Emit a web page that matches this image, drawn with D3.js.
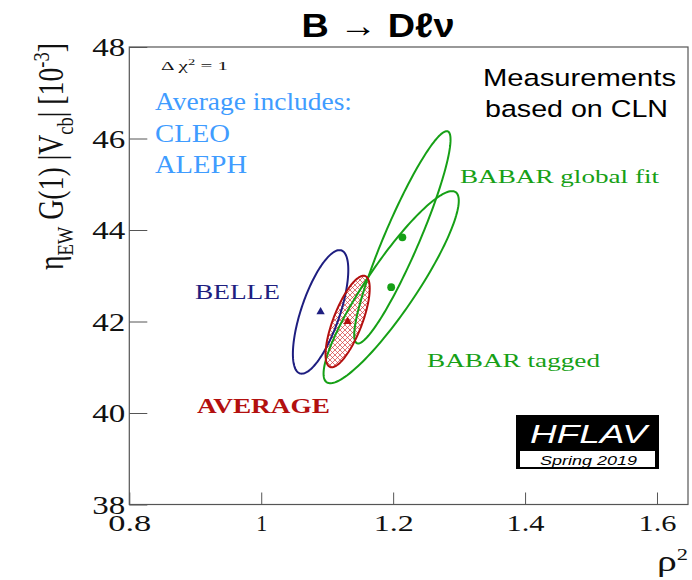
<!DOCTYPE html>
<html><head><meta charset="utf-8">
<script src="https://cdn.jsdelivr.net/npm/d3@7"></script>
<style>body{margin:0;background:#fff}svg{display:block}</style>
</head><body><svg id="c" width="692" height="580"></svg>
<script>
// ---- data ----
const names = ["BELLE", "AVERAGE", "BABAR global fit", "BABAR tagged"];
const rho2 = [1.090, 1.131, 1.214, 1.197];
const vcb = [42.21, 42.00, 43.84, 42.75];
const errRho2 = [0.042, 0.0335, 0.073, 0.1025];
const errVcb = [1.35, 1.00, 2.32, 2.10];
const corr = [0.68, 0.72, 0.92, 0.90];
const markerShapes = ["triangle", "triangle", "circle", "circle"];
const xTicks = [0.8, 1.0, 1.2, 1.4, 1.6];
const xTickLabels = ["0.8", "1", "1.2", "1.4", "1.6"];
const yTicks = [38, 40, 42, 44, 46, 48];
const yTickLabels = ["38", "40", "42", "44", "46", "48"];
const includes = ["Average includes:", "CLEO", "ALEPH"];
const noteLines = ["Measurements", "based on CLN"];

// ---- styles ----
const colors = ["#1e1e80", "#b3100f", "#16a016", "#16a016"];
const serif = "'Liberation Serif','DejaVu Serif',serif";
const sans = "'Liberation Sans',Arial,sans-serif";

const svg = d3.select("#c");
const x = d3.scaleLinear([0.8, 1.647], [129.3, 688]);
const y = d3.scaleLinear([38, 48], [504.5, 47]);

// hatch pattern
const defs = svg.append("defs");
const pat = defs.append("pattern").attr("id", "hatch").attr("patternUnits", "userSpaceOnUse")
  .attr("width", 5).attr("height", 5);
pat.append("path").attr("d", "M0,0L5,5M5,0L0,5M-1,4L1,6M4,-1L6,1M4,6L6,4M-1,1L1,-1")
  .attr("stroke", "#d23a3a").attr("stroke-width", 0.7).attr("fill", "none");

// ---- axes ----
const axisColor = "#555";
const gx = svg.append("g").attr("transform", `translate(0,${y(38)})`);
gx.call(d3.axisBottom(x).tickValues(d3.range(0.8, 1.6476, 0.05)).tickSize(-6).tickFormat(""));
gx.call(d3.axisBottom(x).tickValues(xTicks).tickSize(-12).tickPadding(0)
  .tickFormat((d, i) => xTickLabels[i]));
gx.select(".domain").remove();
gx.selectAll("line").attr("stroke", axisColor);
gx.selectAll("text").attr("y", 26).attr("dy", 0).attr("fill", "#111")
  .style("font-family", serif).style("font-size", "23.5px")
  .attr("textLength", (d) => ({ "0.8": 43, "1": 11, "1.2": 40, "1.4": 38, "1.6": 38 }[xTickLabels[xTicks.indexOf(d)]]))
  .attr("lengthAdjust", "spacingAndGlyphs");

const gy = svg.append("g").attr("transform", `translate(${x(0.8)},0)`);
gy.call(d3.axisLeft(y).tickValues(d3.range(38, 48.01, 0.5)).tickSize(-9).tickFormat(""));
gy.call(d3.axisLeft(y).tickValues(yTicks).tickSize(-18).tickPadding(4)
  .tickFormat((d, i) => yTickLabels[i]));
gy.select(".domain").remove();
gy.selectAll("line").attr("stroke", axisColor);
gy.selectAll("text").attr("dy", "8.5").attr("fill", "#111")
  .style("font-family", serif).style("font-size", "25.5px")
  .attr("textLength", 33).attr("lengthAdjust", "spacingAndGlyphs");

// frame
svg.append("rect").attr("x", x(0.8)).attr("y", y(48))
  .attr("width", x(1.647) - x(0.8)).attr("height", y(38) - y(48))
  .attr("fill", "none").attr("stroke", axisColor).attr("stroke-width", 1.2);

// ---- ellipses ----
function ellipsePts(i) {
  const pts = [];
  const s = Math.sqrt(1 - corr[i] * corr[i]);
  for (let k = 0; k < 160; k++) {
    const t = 2 * Math.PI * k / 160;
    pts.push([rho2[i] + errRho2[i] * Math.cos(t),
              vcb[i] + errVcb[i] * (corr[i] * Math.cos(t) + s * Math.sin(t))]);
  }
  return pts;
}
const line = d3.line().x(d => x(d[0])).y(d => y(d[1])).curve(d3.curveLinearClosed);
const order = [2, 3, 0, 1];
const gE = svg.append("g");
gE.append("path").attr("d", line(ellipsePts(1))).attr("fill", "url(#hatch)");
order.forEach(i => {
  gE.append("path").attr("d", line(ellipsePts(i))).attr("fill", "none")
    .attr("stroke", colors[i]).attr("stroke-width", 2);
});
// markers
order.forEach(i => {
  const sym = markerShapes[i] === "triangle" ? d3.symbolTriangle : d3.symbolCircle;
  const size = markerShapes[i] === "triangle" ? 30 : 48;
  svg.append("path").attr("d", d3.symbol(sym, size)())
    .attr("transform", `translate(${x(rho2[i])},${y(vcb[i])})`)
    .attr("fill", colors[i]);
});

// ---- series labels ----
function txt(t, px, py, size, fam, fill, len, extra) {
  const e = svg.append("text").attr("x", px).attr("y", py).text(t)
    .style("font-family", fam).style("font-size", size + "px").attr("fill", fill);
  if (len) e.attr("textLength", len).attr("lengthAdjust", "spacingAndGlyphs");
  if (extra) extra(e);
  return e;
}
txt(names[0], 195, 299, 20, serif, colors[0], 85);
txt(names[1], 197, 413, 20, serif, colors[1], 133, e => e.style("font-weight", "bold"));
txt(names[2], 460, 183, 19, serif, colors[2], 199);
txt(names[3], 427, 367, 19, serif, colors[3], 173);

// blue list
txt(includes[0], 155, 110, 26, serif, "#3f9cff", 197);
txt(includes[1], 155, 142, 26, serif, "#3f9cff", 75);
txt(includes[2], 155, 173, 26, serif, "#3f9cff", 92);

// note
txt(noteLines[0], 483, 86, 24.5, sans, "#000", 193);
txt(noteLines[1], 485, 117, 24.5, sans, "#000", 183);

// delta chi2
const dc = txt("", 161, 70, 13, serif, "#111", 67);
dc.append("tspan").text("Δ χ");
dc.append("tspan").attr("dy", -5).style("font-size", "9px").text("2");
dc.append("tspan").attr("dy", 5).text(" = 1");

// title
txt("B → Dℓν", 378, 37, 34, sans, "#000", 153, e => e.attr("text-anchor", "middle").style("font-weight", "bold"));

// x label
const xl = txt("", 688, 571, 30, serif, "#111", 31, e => e.attr("text-anchor", "end"));
xl.append("tspan").text("ρ");
xl.append("tspan").attr("dy", -11).style("font-size", "17px").text("2");

// y label
const yl = svg.append("text").attr("transform", "translate(63,270) scale(1.3,1) rotate(-90)")
  .style("font-family", serif).style("font-size", "27px").attr("fill", "#111")
  .attr("textLength", 227).attr("lengthAdjust", "spacingAndGlyphs");
yl.append("tspan").text("η");
yl.append("tspan").attr("dy", 8).style("font-size", "18px").text("EW");
yl.append("tspan").attr("dy", -8).text(" G(1) |V");
yl.append("tspan").attr("dy", 8).style("font-size", "18px").text("cb");
yl.append("tspan").attr("dy", -8).text("| [10");
yl.append("tspan").attr("dy", -11).style("font-size", "18px").text("-3");
yl.append("tspan").attr("dy", 11).text("]");

// HFLAV logo
svg.append("rect").attr("x", 516).attr("y", 415).attr("width", 143).attr("height", 54).attr("fill", "#000");
svg.append("rect").attr("x", 520).attr("y", 451).attr("width", 135).attr("height", 16).attr("fill", "#fff");
txt("HFLAV", 530, 443, 25, sans, "#fff", 117, e => e.style("font-style", "italic"));
txt("Spring 2019", 540, 465, 13, sans, "#000", 97, e => e.style("font-style", "italic"));
</script></body></html>
